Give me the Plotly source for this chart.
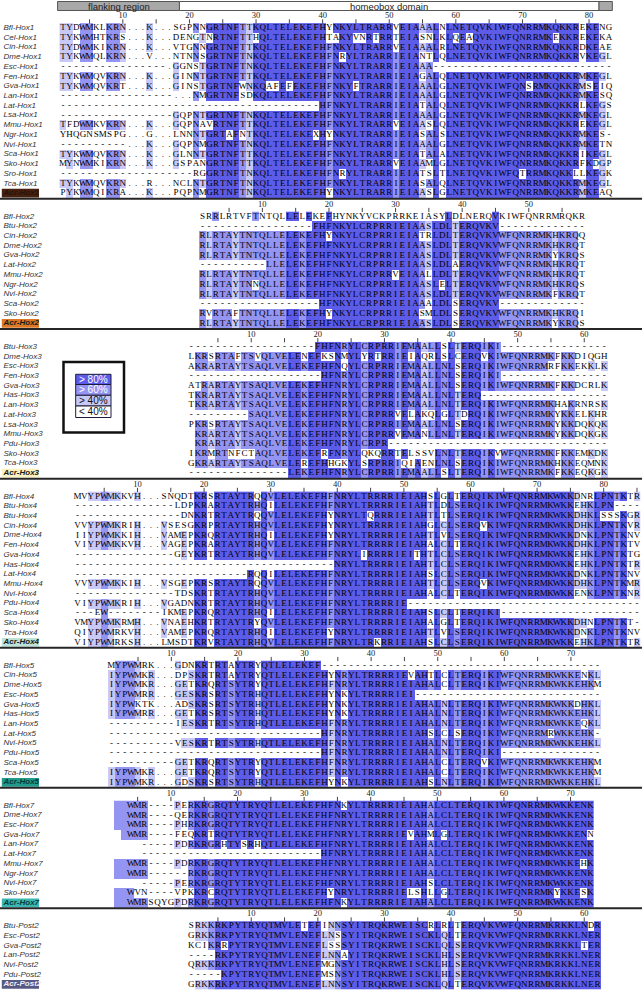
import plotly.graph_objects as go
from collections import Counter

# ---------------- alignment data ----------------
# '-' and '.' are gaps, ' ' is an empty cell, lower case = residue whose letter is hidden
HOX1_NAMES = ["Bfl-Hox1", "Cel-Hox1", "Cin-Hox1", "Dme-Hox1", "Esc-Hox1", "Fen-Hox1",
              "Gva-Hox1", "Lan-Hox1", "Lat-Hox1", "Lsa-Hox1", "Mmu-Hox1", "Ngr-Hox1",
              "Nvi-Hox1", "Sca-Hox1", "Sko-Hox1", "Sro-Hox1", "Tca-Hox1", "Acr-Hox1"]
HOX1_SEQS = [
    "TYDWMKLKRN...K...SGPNNGRTNFTTKQLTELEKEFHYNKYLTRARRVEIAAALNLNETQVKIWFQNRRMKQKKREKENG",
    "TYKWMHTKRS...K...DENGTNRTNFTTHQLTELEKEFHTAKYVNRTRRTEIASNLKLQEAQVKIWFQNRRMKEKKREKEKA",
    "TYDWMKIKRN...K...VTGNNGRTNFTTKQLTELEKEFHFNKYLTRARRVEIAAALRLNETQVKIWFQNRRMKQKKRDKEAE",
    "TYKWMQLKRN...V...NTNNSGRTNFTNKQLTELEKEFHFNRYLTRARRIEIANTLQLNETQVKIWFQNRRMKQKKRVKEGL",
    "----------------.GGNSTGRTNFTNKQLTELEKEFHFNKYLTRARRIEIAAA---------------------------",
    "TYKWMQVKRN...K...GINNTGRTNFTTKQLTELEKEFHFNKYLTRARRIEIAGALQLNETQVKIWFQNRRMKQKKRMKEGL",
    "TYKWMQVKRT...K...GINSTGRTNFWNKQAFEFEKEFHFNKYFTRARRIEIAAALGLNETQVKIWFQNSRMKQKKRMSEIQ",
    "-----------------...NMGRTNFSDKQLTELEKEFHFNKYLTRARRIEIAAALGLNETQVKIWFQNRRMKQKKRMKESQ",
    "---------------------------------------HFNKYLTRARRIEIATALQLNETQVKIWFQNRRMKQKKRLKEGS",
    "-----------------GQPNTGRTNFTNKQLTELEKEFHFNKYLTRARRIEIAAALGLNETQVKIWFQNRRMKQKKRMKEGL",
    "TFDWMKVKRN...K...GQPNAVRTNFTTKQLTELEKEFHFNKYLTRARRVEIAASLQLNETQVKIWFQNRRMKQKKREKEGL",
    "YHQGNSMSPG...G...LNNNTGRTAFNTKQLTELEKEXHYNKYLTRARRIEIASALSLNETQVKIWFQNRRMKQKKRMKES-",
    "----------...K...GQPNMGRTNFTNKQLTELEKEFHFNKYLTRARRIEIAAALGLNETQVKIWFQNRRMKQKKRMKETN",
    "TYKWMQVKRN...K...GLNNTGRTNFTTKQLTELEKEFHFNKYLTRARRIEIATALALNETQVKIWFQNRRMKQKKRIKEGL",
    "MYNWMKIKRN...K...GSPANGRTNFTTKQLTELEKEFHFNKYLTRARRVEIAAMLGLNETQVKIWFQNRRMKQKKRFKDGP",
    "--------------------RGGRTNFTNKQLTELEKEFHFNRYLTRARRIEIATSLTLNETQVKIWFQTRRMKQKKLLKEGK",
    "TYKWMQVKRN...R...NCLNTGRTNFTNKQLTELEKEFHFNKYLTRARRIEIASALQLNETQVKIWFQNRRMKQKKRMKEGL",
    "PYKWMQIKRA...K...PQPNMGRTNFTNKQLTELEKEFHYNKYLTRARRIEIAASLGLNETQVKIWFQNRRMKQKKRMKEAQ",
]

HOX2_NAMES = ["Bfl-Hox2", "Btu-Hox2", "Cin-Hox2", "Dme-Hox2", "Gva-Hox2", "Lat-Hox2",
              "Mmu-Hox2", "Ngr-Hox2", "Nvi-Hox2", "Sca-Hox2", "Sko-Hox2", "Acr-Hox2"]
HOX2_SEQS = [
    "SRRLRTVFTNTQLLELEKEFHYNKYVCKPRRKEIASYLDLNERQVKIWFQNRRMRQKR",
    "-----------------FHFNKYLCRPRRIEIAASLDLTERQVKV-------------",
    "RLRTAYTNTQLLELEKEFHYNKYLCRPRRIEIATRLDLTERQVKVWFQNRRMKHKRQQ",
    "RLRTAYTNTQLLELEKEFHFNKYLCRPRRIEIAASLDLTERQVKVWFQNRRMKHKRQT",
    "RLRTAYTNTQLLELEKEFHFNKYLCRPRRIEIAASLDLTERQVKVWFQNRRMKYKRQS",
    "----------LLELEKEFHFNKYLCRPRRIEIAASLDLAERQVKVWFQNRRMKHKRQT",
    "RLRTAYTNTQLLELEKEFHFNKYLCRPRRVEIAALLDLTERQVKVWFQNRRMKHKRQT",
    "RLRTAYTNNQLLELEKEFHFNKYLCRPRRIEIAASLELTERQVKVWFQNRRMKHKRQS",
    "RLRTAYTNTQLLELEKEFHFNKYLCRPRRIEIAASLDLTERQVKVWFQNRRMKFKRQT",
    "------------------HFNKYLCRPRRIEIAAALDLSERQVKV-------------",
    "RVRTAFTNTQLLELEKEFHYNKYLCRPRRIEIASMLDLSERQVKVWFQNRRMKHKRQI",
    "RLRTAYTNTQLLELEKEFHFNKYLCRPRRIEIAASLDLSERQVKVWFQNRRMKYKRQS",
]

HOX3_NAMES = ["Btu-Hox3", "Dme-Hox3", "Esc-Hox3", "Fen-Hox3", "Gva-Hox3", "Has-Hox3", "Lan-Hox3",
              "Lat-Hox3", "Lsa-Hox3", "Mmu-Hox3", "Pdu-Hox3", "Sko-Hox3", "Tca-Hox3", "Acr-Hox3"]
HOX3_SEQS = [
    "-------------------FHFNRYLCRPRRIEMAALLSLTERQIKI----------------",
    "LKRSRTAFTSVQLVELENEFKSNMYLYRTRRIEIAQRLSLCERQVKIWFQNRRMKFKKDIQGH",
    "AKRARTAYTSAQLVELEKEFHFNQYLCRPRRIEMAALLNLSERQIKIWFQNRRMRFKKEKKLK",
    "--------------------HFNRYLCRPRRIEMAALLNLSERQIKI----------------",
    "ATRARTAYTSAQLVELEKEFHFNRYLCRPRRIEMAALLNLSERQIKIWFQNRRMKFKKDCRLK",
    "TKRARTAYTSAQLVELEKEFHFNRYLCRPRRIEMAALLNLTERQ-------------------",
    "TKRARTAYTSAQLVELEKEFHFNRYLCRPRRIEMAALLNLTERQIKIWFQNRRMKHAKRNRSK",
    "---------SAQLVELEKEFHFNRYLCRPRRVELAKQLGLTDRQIKIWFQNRRMKYKKELKHR",
    "PKRSRTAYTSAQLVELEKEFHFNRYLCRPRRIEMAALLNLSERQIKIWFQNRRMKYKKDQKQK",
    " KRARTAYTSAQLVELEKEFHFNRYLCRPRRVEMANLLNLTERQIKIWFQNRRMKYKKDQKGK",
    " KRARTAYTSAQLVELEKEFHFNRYLCRPR---------------------------------",
    "IKRMRTNFCTAQLVELEKEFRFNRYLQKQRRTELSSVLNLTERQIKVWFQNRRMKFKKEMKDK",
    "GKRARTAYTSAQLVELEREFHHGKYLSRPRRIQIAENLNLSERQIKIWFQNRRMKHKKEQMNK",
    "---------------LEKEFHFNRYLCRPRRIEMAALLSLTERQIKIWFQNRRMKFKKEQKGK",
]

HOX4_NAMES = ["Bfl-Hox4", "Btu-Hox4", "Btu-Hox4", "Cin-Hox4", "Dme-Hox4", "Fen-Hox4", "Gva-Hox4",
              "Has-Hox4", "Lat-Hox4", "Mmu-Hox4", "Nvi-Hox4", "Pdu-Hox4", "Sca-Hox4", "Sko-Hox4",
              "Tca-Hox4", "Acr-Hox4"]
HOX4_SEQS = [
    "MVYPWMKKVH...SNQDTKRSRTAYTRQQVLELEKEFHFNRYLTRRRRIEIAHSLGLTERQIKIWFQNRRMKWKKDNRLPNTKTR",
    "---------------LDPKRARTAYTRHQILELEKEFHFNRYLTRRRRIEIAHTLDLSERQIKIWFQNRRMKWKKEHKLPN----",
    "----------------DNKRTRTAYTRQQVLELEKEFHYNRYLTQRRRIEIAHTLTLSERQIKIWFQNRRMKWKKDHKLSSSKGR",
    "VVYPWMKRIH...VSESGKRPRTAYTRHQVLELEKEFHYNRYLTRRRRIEIAHGLCLSERQVKIWFQNRRMKWKKDHKLPNTKVR",
    "IIYPWMKKIH...VAMEPKRQRTAYTRHQILELEKEFHYNRYLTRRRRIEIAHTLVLSERQIKIWFQNRRMKWKKDNKLPNTKNV",
    "VIYPWMKKVH...VAGEPKRARTAYTRHQVLELEKEFHFNRYLTRRRRIEIAHALCLTERQIKIWFQNRRMKWKKDHKLPNTKTV",
    "---------------GEYKRTRTAYTRHQVLELEKEFHFNRYLIRRRRIEITHTLCLSERQIKIWFQNRRMKWKKEHKLPNTKTG",
    "---------------------------------------NRYLTRRRRIEIAHTLCLSERQIKIWFQNRRMKWKKEHKLPNTKTR",
    "--------------------------RQQILELEKEFHFNRYLTRRRRIEIAHSLCLSERQIKIWFQNRRMKWKKDNKLPNTKNV",
    "VVYPWMKKIH...VSGEPKRSRTAYTRQQVLELEKEFHFNRYLTRRRRIEIAHTLCLSERQVKIWFQNRRMKWKKDHKLPNTKMR",
    "---------------TDSKRTRTAYTRHQVLELEKEFHFNRYLTRRRRIEIAHALCLTERQIKIWFQNRRMKWKKENKLPNTKNR",
    "VIYPWMKRIH...VGADNKRTRTAYTRHQVLELEKEFHFNRYLTRRRRIE-----------------------------------",
    "---EW--------IKMEPKRQRTAYTRHQILELEKEFHFNRYLTRRRRIEIAHSLCLTERQIKI---------------------",
    "VMYPWMKRMH...VNAEHKRTRTAYTRYQVLELEKEFHFNRYLTRRRRIEIAHALGLTERQIKIWFQNRRMKWKKDHNLPNTKT-",
    "QIYPWMRKVH...VAMEPKRQRTAYTRHQILELEKEFHYNRYLTRRRRIEIAHTLVLSERQIKIWFQNRRMKWKKDNKLPNTKNV",
    "VIYPWMRKSH...LMSDTKRVRTAYTRHQVLELEKEFHFNRYLTRKRRIEIAHSLCLSERQIKIWFQNRRMKWKKEHKLPNTKTR",
]

HOX5_NAMES = ["Bfl-Hox5", "Cin-Hox5", "Dme-Hox5", "Esc-Hox5", "Gva-Hox5", "Has-Hox5", "Lan-Hox5",
              "Lat-Hox5", "Nvi-Hox5", "Pdu-Hox5", "Sca-Hox5", "Tca-Hox5", "Acr-Hox5"]
HOX5_SEQS = [
    "MYPWMRK...GDNKRTRTAYTRYQTLELEKEF------------------------------------------",
    "IYPWMKR...DPSKRTRTAYTRYQTLELEKEFHYNRYLTRRRRIEVAHTLCLTERQIKIWFQNRRMKWKKENKL",
    "IYPWMKR...GETKRQRTSYTRYQTLELEKEFHFNRYLTRRRRIEIAHALCLTERQIKIWFQNRRMKWKKEHKM",
    "IYPWMRR...GESKRSRTSYTRHQTLELEKEFHYNKYLTRRRRIEI----------------------------",
    "IYPWKTK...ADSKRSRTSYTRHQTLELEKEFHYNKYLTRRRRIEIAHALNLTERQIKIWFQNRRMKWKKDHKL",
    "IYPWMRR...GETKRSRTSYTRHQTLELEKEFHYNKYLTRRRRIEIAHALNLTERQIKIWFQNRRMKWKKEHKL",
    "----------IESKRTRTSYTRHQTLELEKEFHFNRYLTRRRRIEIAHALNLTERQIKIWFQNRRMKWKKEQKL",
    "--------------------------------HFNRYLTRRRRIEIAHSLCLSERQIKIWFQNRRMRWKKEHK-",
    "----------VESKRTRTSYTRHQTLELEKEFHFNRYLTRRRRIEIAHALNLTERQIKIWFQNRRMKWKKEHKL",
    "--------------------------------HFNRYLTRRRRIEIAHALNLTERQIKI---------------",
    "----------GETKRQRTSYTRYQTLELEKEFHFNRYLTRRRRIEIAHALCLTERQVKIWFQNRRMKWKKEHKM",
    "IYPWMKR...GETKRQRTSYTRYQTLELEKEFHFNRYLTRRRRIEIAHALCLTERQIKIWFQNRRMKWKKEHKM",
    "IYPWMKR...GDSKRSRTSYTRHQTLELEKEFHYNKYLTRRRRIEIAHSLNLTERQIKIWFQNRRMKWKKEHKL",
]

HOX7_NAMES = ["Bfl-Hox7", "Dme-Hox7", "Esc-Hox7", "Gva-Hox7", "Lan-Hox7", "Lat-Hox7",
              "Mmu-Hox7", "Ngr-Hox7", "Nvi-Hox7", "Sko-Hox7", "Acr-Hox7"]
HOX7_SEQS = [
    " ypWMR----PERKRGRQTYTRYQTLELEKEFHFNKYLTRRRRIEIAHALCLTERQIKIWFQNRRMKWKKENK",
    " ypWMR----QERKRGRQTYTRYQTLELEKEFHFNRYLTRRRRIEIAHALCLTERQIKIWFQNRRMKWKKENK",
    " ypWMR----PHRKRGRQTYTRYQTLELEKEFHFNRYLTRRRRIEIAHALCLTERQIKIWFQNRRMKWKKENK",
    "  pWMR----FEQKRTRQTYTRYQTLELEKEFHFNRYLTRRRRIEVAHMLGLTERQIKIWFQNRRMKWKKENN",
    "     -----PDRKRGRHTYSRHQTLELEKEFHFNRYLTRRRRIEIAHALCLTERQIKIWFQNRRMKWKKENK",
    "     ---------------------------HFNRYLTRRRRIEIAHALCLTERQIKIWFQNRRMKWKKENK",
    " ypWMR----PDRKRGRQTYTRYQTLELEKEFHFNRYLTRRRRIEIAHALCLTERQIKIWFQNRRMKWKKEHK",
    " ypWMR------RKRGRQTYTRYQTLELEKEFHFNRYLTRRRRIEIAHALCLTERQIKIWFQNRRMKWKKENK",
    "     -----PERKRGRQTYTRYQTLELEKEFHFNRYLTRRRRIEIAHSLCLTERQIKIWFQNRRMKWKKENK",
    " ypWVN----VPKKRCRQTYTRYQTLELEKEFHYNRYLTRRRRIELSHLLGLTERQIKIWFQNRRMKYKKESK",
    " ypWMRSQYGPDRKRGRQTYTRYQTLELEKEFHFNKYLTRRRRIEIAHALCLTERQIKIWFQNRRMKWKKENK",
]

POST2_NAMES = ["Btu-Post2", "Esc-Post2", "Gva-Post2", "Lan-Post2", "Nvi-Post2", "Pdu-Post2", "Acr-Post2"]
POST2_SEQS = [
    "SRKKRKPYTRYQTMVLETEFINNSYITRQKRWEISCRLRLTERQVKVWFQNRRMKRKKLNDR",
    "GRKKRKPYTRYQTMVLENEFLNSSYITRQKRWEISCKLQLTERQVKVWFQNRRMKRKKLNER",
    "KCIKRRPYTRYQTMVLENEFLSSSYITRQKRWEISCKLQLSERQVKVWFQNRRMKRKKLTER",
    "----RKPYTRYQTMVLENEFLNNAYITRQKRWEISCKLHLSERQVKVWFQNRRMKRKKLNER",
    "QRKKRKPYTRYQTMVLENEFMGNSYITRQKRWEISCKLHLSERQVKVWFQNRRMKRKKLNER",
    "-----KPYTRYQTMVLENEFMSNSYITRQKRWEISCKLHLSERQVKVWFQNRRMKRKKLNER",
    "GRKKRKPYTRYQTMVLENEFLNNSYITRQKRWEISCKLQLTERQVKVWFQNRRMKRKKLNER",
]

HEADER_TEXT = ["flanking region", "homeobox domain"]
LEGEND_LABELS = ["> 80%", "> 60%", "> 40%", "< 40%"]
PID_LEVELS = [80, 60, 40]

# Acr label highlight (background, text) per block
ACR_BG = ["#45200f", "#db7826", "#fbf2c0", "#bde3d8", "#1f9a8b", "#3ab7b2", "#585885"]
ACR_FG = ["#2a1208", "#1a1a1a", "#1a1a1a", "#1a1a1a", "#0b3b35", "#0b3b35", "#eeeef8"]

# shading colours for >40, >60, >80 percent identity
SHADE = ["#c9c9f8", "#9494f2", "#5c5ce8"]

# ---------------- layout constants ----------------
W, H = 642, 992
CW, RH = 6.66, 9.72        # px per column / per row
X0, Y0 = 62.9, 28.0        # px of Hox1 column 1 / first row
GAP = 2.4                  # rows between blocks
# column-1 position of each block, in Hox1 column units
XOFF = [0, 20.95, 19.28, 2.2, 7.28, 7.22, 19.28]

BLOCKS = [(HOX1_NAMES, HOX1_SEQS), (HOX2_NAMES, HOX2_SEQS), (HOX3_NAMES, HOX3_SEQS),
          (HOX4_NAMES, HOX4_SEQS), (HOX5_NAMES, HOX5_SEQS), (HOX7_NAMES, HOX7_SEQS),
          (POST2_NAMES, POST2_SEQS)]


def xu(px):
    return 1 + (px - X0) / CW


def yu(py):
    return (py - Y0) / RH


def pid_levels(seqs):
    n = len(seqs)
    ncol = max(len(s) for s in seqs)
    rows = [s.ljust(ncol).upper() for s in seqs]
    z = [[None] * ncol for _ in rows]
    for c in range(ncol):
        col = [r[c] for r in rows]
        counts = Counter(ch for ch in col if ch.isalpha())
        if not counts:
            continue
        top = max(counts.values())
        pct = 100.0 * top / n
        lev = None
        for k, t in enumerate(PID_LEVELS):
            if pct > t:
                lev = 3 - k
                break
        if lev is None:
            continue
        cons = [ch for ch, k in counts.items() if k == top]
        for r, ch in enumerate(col):
            if ch in cons:
                z[r][c] = lev
    return z


fig = go.Figure()
shapes = []
annotations = []

cs = [[0, SHADE[0]], [1 / 3, SHADE[0]], [1 / 3, SHADE[1]], [2 / 3, SHADE[1]],
      [2 / 3, SHADE[2]], [1, SHADE[2]]]

lx, ly, lt = [], [], []          # residues
nx, ny, nt = [], [], []          # names
ax, ay, at, afg = [], [], [], [] # Acr names
rx, ry, rt = [], [], []          # ruler numbers
tx, ty = [], []                  # ruler ticks

ystart = 0.0
for b, (names, seqs) in enumerate(BLOCKS):
    ncol = max(len(s) for s in seqs)
    xo = XOFF[b]
    ys = [ystart + i for i in range(len(seqs))]
    z = pid_levels(seqs)
    fig.add_trace(go.Heatmap(
        x=[xo + c + 1 for c in range(ncol)], y=ys, z=z,
        colorscale=cs, zmin=0.5, zmax=3.5, showscale=False, hoverinfo="skip"))

    for i, s in enumerate(seqs):
        for c, ch in enumerate(s):
            if ch == " " or ch.islower():
                continue
            lx.append(xo + c + 1)
            ly.append(ys[i])
            lt.append(ch)
        if names[i].startswith("Acr"):
            ax.append(xu(3.5)); ay.append(ys[i]); at.append(names[i]); afg.append(ACR_FG[b])
            shapes.append(dict(type="rect", xref="x", yref="y",
                               x0=xu(1.8), x1=xu(39), y0=ys[i] - 0.45, y1=ys[i] + 0.45,
                               fillcolor=ACR_BG[b], line=dict(width=0), layer="below"))
        else:
            nx.append(xu(3.5)); ny.append(ys[i]); nt.append(names[i])

    for k in range(5, ncol + 1, 5):
        tx.append(xo + k); ty.append(ystart - 0.68)
        if k % 10 == 0:
            rx.append(xo + k); ry.append(ystart - 1.22); rt.append(str(k))

    last = ys[-1]
    if b < len(BLOCKS) - 1:
        shapes.append(dict(type="line", xref="paper", yref="y", x0=0, x1=1,
                           y0=last + 0.57, y1=last + 0.57,
                           line=dict(color="#262626", width=2)))
    ystart = last + GAP

fig.add_trace(go.Scatter(
    x=lx, y=ly, text=lt, mode="text", textposition="middle center",
    textfont=dict(family="Liberation Serif", size=9, color="#000000"),
    hoverinfo="skip", cliponaxis=False))

fig.add_trace(go.Scatter(
    x=nx, y=ny, text=nt, mode="text", textposition="middle right",
    textfont=dict(family="Liberation Sans", size=8, color="#333333", style="italic"),
    hoverinfo="skip", cliponaxis=False))

fig.add_trace(go.Scatter(
    x=ax, y=ay, text=at, mode="text", textposition="middle right",
    textfont=dict(family="Liberation Sans", size=8, color=afg,
                  style="italic", weight="bold"),
    hoverinfo="skip", cliponaxis=False))

fig.add_trace(go.Scatter(
    x=rx, y=ry, text=rt, mode="text", textposition="middle center",
    textfont=dict(family="Liberation Serif", size=8.5, color="#222222"),
    hoverinfo="skip", cliponaxis=False))

fig.add_trace(go.Scatter(
    x=tx, y=ty, mode="markers",
    marker=dict(symbol="line-ns", size=3, line=dict(width=1, color="#444444")),
    hoverinfo="skip", cliponaxis=False))

# header boxes over the Hox1 block
hy0, hy1 = yu(1.5), yu(10.5)
for x0, x1, fill in [(0.2, 18.5, "#a8a8a8"), (18.5, 81.5, "#ffffff"), (81.5, 83.5, "#a8a8a8")]:
    shapes.append(dict(type="rect", xref="x", yref="y", x0=x0, x1=x1, y0=hy0, y1=hy1,
                       fillcolor=fill, line=dict(color="#555555", width=1)))
annotations.append(dict(x=9.35, y=(hy0 + hy1) / 2, xref="x", yref="y", text=HEADER_TEXT[0],
                        showarrow=False, font=dict(family="Liberation Sans", size=9.5, color="#222")))
annotations.append(dict(x=50, y=(hy0 + hy1) / 2, xref="x", yref="y", text=HEADER_TEXT[1],
                        showarrow=False, font=dict(family="Liberation Sans", size=9.5, color="#222")))

# colour key
shapes.append(dict(type="rect", xref="x", yref="y", x0=xu(63.5), x1=xu(124), y0=yu(362), y1=yu(432.5),
                   fillcolor="white", line=dict(color="#111111", width=2.5)))
key_fill = [SHADE[2], SHADE[1], SHADE[0], "#ffffff"]
key_font = ["white", "white", "#111111", "#111111"]
key_top = [374.3, 384.5, 395.3, 406.0, 417.5]
for k, lab in enumerate(LEGEND_LABELS):
    shapes.append(dict(type="rect", xref="x", yref="y", x0=xu(75.7), x1=xu(111),
                       y0=yu(key_top[k]), y1=yu(key_top[k + 1]),
                       fillcolor=key_fill[k], line=dict(color="#1c1c3a", width=1)))
    annotations.append(dict(x=xu(93.3), y=yu((key_top[k] + key_top[k + 1]) / 2), xref="x", yref="y",
                            text=lab, showarrow=False,
                            font=dict(family="Liberation Sans", size=10, color=key_font[k])))

fig.update_layout(
    width=W, height=H, margin=dict(l=0, r=0, t=0, b=0),
    paper_bgcolor="white", plot_bgcolor="white", showlegend=False,
    shapes=shapes, annotations=annotations,
    xaxis=dict(range=[xu(0), xu(W)], visible=False, fixedrange=True),
    yaxis=dict(range=[yu(H), yu(0)], visible=False, fixedrange=True),
)

fig.write_html("out.html", config={"displayModeBar": False},
               post_script="document.body.style.margin='0';")
